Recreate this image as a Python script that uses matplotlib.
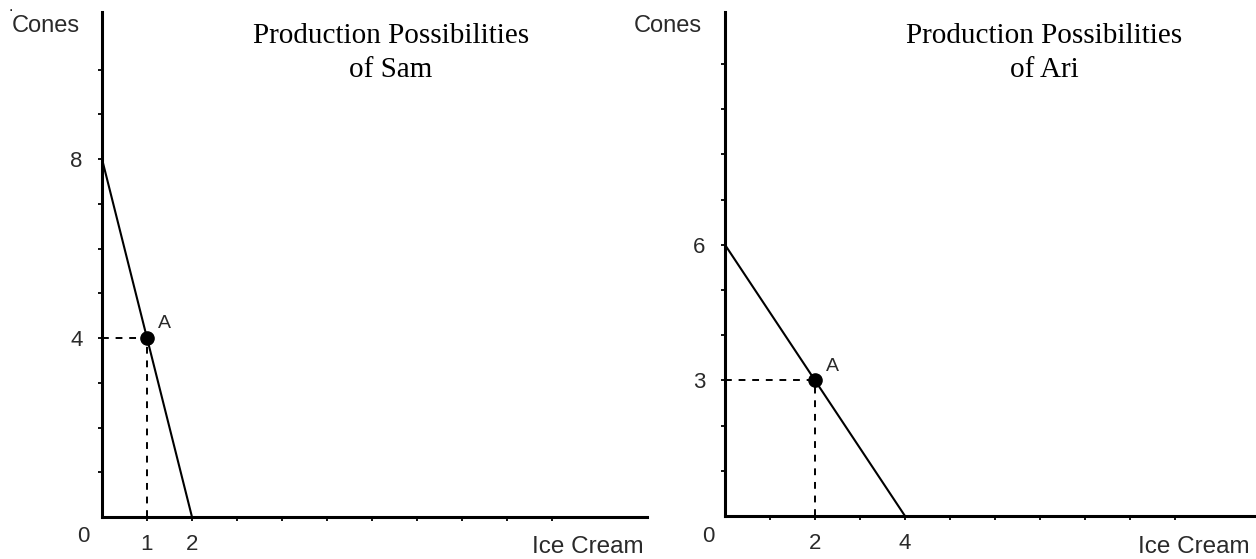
import matplotlib
matplotlib.use('Agg')
import matplotlib.pyplot as plt

# data
sam_ice = [0, 2]
sam_cones = [8, 0]
sam_point = [1, 4]
ari_ice = [0, 4]
ari_cones = [6, 0]
ari_point = [2, 3]

minor_ticks = list(range(1, 11))
sam_xlabels = {1: '1', 2: '2'}
sam_ylabels = {4: '4', 8: '8'}
ari_xlabels = {2: '2', 4: '4'}
ari_ylabels = {3: '3', 6: '6'}

titles = ['Production Possibilities\nof Sam', 'Production Possibilities\nof Ari']

W, H = 1256, 559
fig = plt.figure(figsize=(W / 100, H / 100), dpi=100)

sans = ['Liberation Sans', 'DejaVu Sans']
serif = ['Liberation Serif', 'DejaVu Serif']
grey = '#2a2a2a'


def panel(rect, xmax, ymax, ice, cones, pt, xl, yl, title, title_x, left_px, icecream_px, cones_px):
    ax = fig.add_axes(rect)
    ax.set_xlim(0, xmax)
    ax.set_ylim(0, ymax)
    for s in ['top', 'right']:
        ax.spines[s].set_visible(False)
    for s in ['left', 'bottom']:
        ax.spines[s].set_linewidth(2.2)
    ax.set_xticks(minor_ticks)
    ax.set_xticklabels([xl.get(t, '') for t in minor_ticks])
    ax.set_yticks(minor_ticks)
    ax.set_yticklabels([yl.get(t, '') for t in minor_ticks])
    ax.tick_params(axis='both', direction='out', length=3, width=1.3, labelsize=16,
                   labelcolor=grey)
    ax.tick_params(axis='x', pad=9.5)
    ax.tick_params(axis='y', pad=11)
    for lab in ax.get_xticklabels() + ax.get_yticklabels():
        lab.set_family(sans)

    ax.plot(ice, cones, color='black', lw=1.5, clip_on=False)
    ax.plot([0, pt[0]], [pt[1], pt[1]], color='black', lw=1.4, ls=(0, (3.5, 3.5)))
    ax.plot([pt[0], pt[0]], [0, pt[1]], color='black', lw=1.4, ls=(0, (3.5, 3.5)))
    ax.plot(pt[0], pt[1], 'o', color='black', ms=9.5, zorder=5)
    ax.annotate('A', (pt[0], pt[1]), xytext=(8, 7), textcoords='offset points',
                fontsize=14, family=sans, color=grey)

    fig.text(left_px / W, 1 - 537 / H, '0', ha='center', va='center',
             fontsize=16, family=sans, color=grey)
    fig.text(icecream_px / W, 1 - 553 / H, 'Ice Cream', ha='left', va='baseline',
             fontsize=17.5, family=sans, color=grey)
    fig.text(cones_px / W, 1 - 32 / H, 'Cones', ha='left', va='baseline',
             fontsize=17, family=sans, color=grey)
    for line, base in zip(title.split('\n'), [43, 77]):
        fig.text(title_x / W, 1 - base / H, line, ha='center', va='baseline',
                 fontsize=21, family=serif, color='black')
    return ax


panel([102 / W, 42 / H, 545 / W, 505 / H], 545 / 45, 505 / 44.75,
      sam_ice, sam_cones, sam_point, sam_xlabels, sam_ylabels, titles[0],
      391, 83, 532, 12)
panel([725 / W, 43 / H, 530 / W, 504 / H], 530 / 45, 504 / 45.2,
      ari_ice, ari_cones, ari_point, ari_xlabels, ari_ylabels, titles[1],
      1044, 708, 1138, 634)

fig.text(11 / W, 1 - 7 / H, '.', ha='center', va='center', fontsize=10, color='black')

fig.savefig('out.png', dpi=100)
